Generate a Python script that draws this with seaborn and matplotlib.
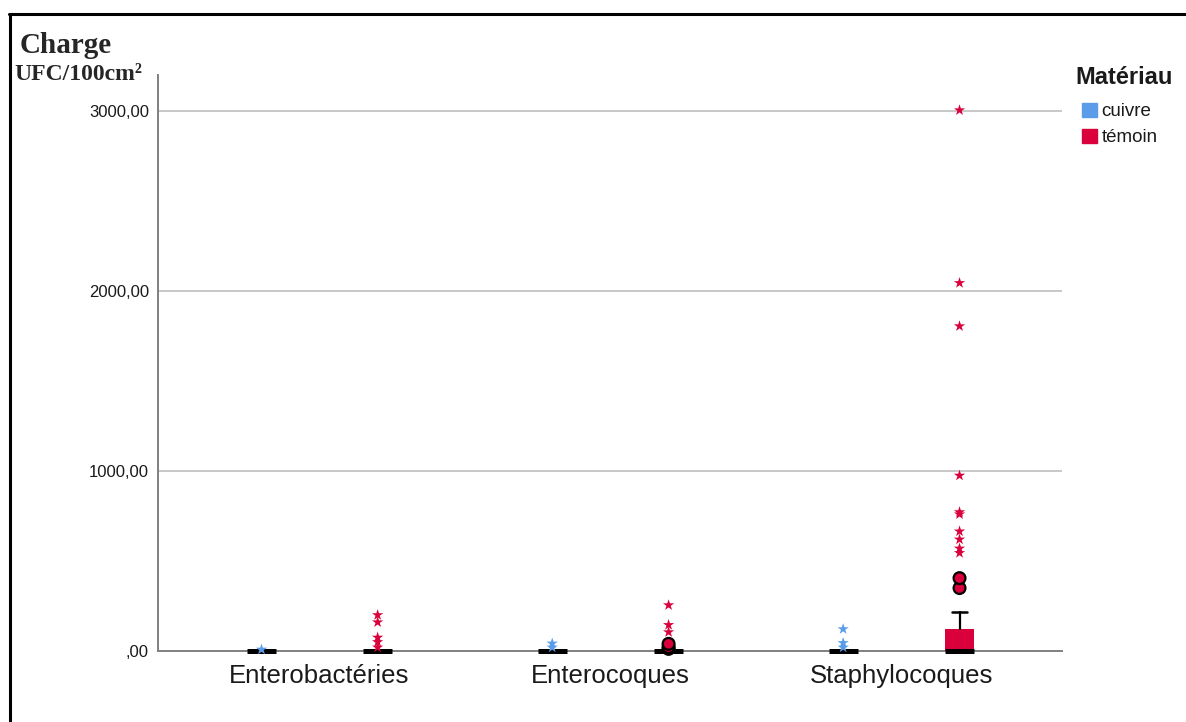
import matplotlib
matplotlib.use("Agg")
import matplotlib.pyplot as plt
from matplotlib.lines import Line2D
from matplotlib.patches import Patch
import seaborn as sns
import pandas as pd

# ---- data -------------------------------------------------------------
categories = ["Enterobactéries", "Enterocoques", "Staphylocoques"]
materials = ["cuivre", "témoin"]
palette = {"cuivre": "#5B9CE8", "témoin": "#D9003B"}

# box summaries, one entry per (category, material), category-major order
box_cat = ["Enterobactéries", "Enterobactéries", "Enterocoques", "Enterocoques",
           "Staphylocoques", "Staphylocoques"]
box_mat = ["cuivre", "témoin", "cuivre", "témoin", "cuivre", "témoin"]
box_q1 = [0, 0, 0, 0, 0, 0]
box_median = [0, 0, 0, 0, 0, 0]
box_q3 = [0, 0, 0, 0, 0, 125]
whisker_low = [0, 0, 0, 0, 0, 0]
whisker_high = [0, 0, 0, 0, 0, 217]

# outliers (circles)
outlier_cat = ["Enterocoques", "Enterocoques", "Enterocoques",
               "Staphylocoques", "Staphylocoques"]
outlier_mat = ["témoin", "témoin", "témoin", "témoin", "témoin"]
outlier_val = [12, 22, 40, 350, 405]

# extreme values (stars)
extreme_cat = (["Enterobactéries"] * 1 + ["Enterobactéries"] * 5
               + ["Enterocoques"] * 2 + ["Enterocoques"] * 3
               + ["Staphylocoques"] * 3 + ["Staphylocoques"] * 10)
extreme_mat = (["cuivre"] * 1 + ["témoin"] * 5
               + ["cuivre"] * 2 + ["témoin"] * 3
               + ["cuivre"] * 3 + ["témoin"] * 10)
extreme_val = ([10] + [20, 50, 75, 160, 200]
               + [20, 42] + [105, 145, 255]
               + [20, 45, 122]
               + [545, 570, 620, 665, 760, 772, 975, 1805, 2045, 3005])

y_ticks = [0, 1000, 2000, 3000]
y_tick_labels = [",00", "1000,00", "2000,00", "3000,00"]

# ---- figure -----------------------------------------------------------
sns.set_style("white")
plt.rcParams["font.family"] = ["Liberation Sans", "DejaVu Sans"]

fig = plt.figure(figsize=(11.86, 7.22), dpi=100)
ax = fig.add_axes([0.1332, 0.0983, 0.7622, 0.7977])

outlier_df = pd.DataFrame({"Germe": outlier_cat, "Matériau": outlier_mat,
                           "Charge": outlier_val})
extreme_df = pd.DataFrame({"Germe": extreme_cat, "Matériau": extreme_mat,
                           "Charge": extreme_val})

sns.stripplot(data=extreme_df, x="Germe", y="Charge", hue="Matériau",
              order=categories, hue_order=materials, palette=palette,
              dodge=True, jitter=False, marker="*", size=8.5, linewidth=0,
              legend=False, ax=ax)
sns.stripplot(data=outlier_df, x="Germe", y="Charge", hue="Matériau",
              order=categories, hue_order=materials, palette=palette,
              dodge=True, jitter=False, marker="o", size=8.5, linewidth=1.6,
              edgecolor="black", legend=False, ax=ax)
for coll in ax.collections:
    coll.set_zorder(5)
    if len(coll.get_offsets()) > 0:
        coll.set_clip_on(False)

# boxes drawn from the summary arrays at the dodged positions
offsets = {"cuivre": -0.2, "témoin": 0.2}
stats, positions, face = [], [], []
for c, m, q1, med, q3, lo, hi in zip(box_cat, box_mat, box_q1, box_median,
                                     box_q3, whisker_low, whisker_high):
    stats.append({"q1": q1, "med": med, "q3": q3, "whislo": lo, "whishi": hi,
                  "fliers": []})
    positions.append(categories.index(c) + offsets[m])
    face.append(palette[m])

bp = ax.bxp(stats, positions=positions, widths=0.1, patch_artist=True,
            showfliers=False, manage_ticks=False, capwidths=0.05,
            boxprops=dict(linewidth=0),
            medianprops=dict(color="black", linewidth=3.6, solid_capstyle="butt"),
            whiskerprops=dict(color="black", linewidth=1.6),
            capprops=dict(color="black", linewidth=1.8),
            zorder=3)
for patch, col in zip(bp["boxes"], face):
    patch.set_facecolor(col)
    patch.set_edgecolor(col)
for line in bp["medians"]:
    line.set_clip_on(False)
    line.set_zorder(4)

ax.set_xlim(-0.555, 2.552)
ax.set_ylim(0, 3200)
ax.set_yticks(y_ticks)
ax.set_yticklabels(y_tick_labels)
ax.set_xticks(range(len(categories)))
ax.set_xticklabels(categories)
ax.set_xlabel("")
ax.set_ylabel("")

for y in y_ticks[1:]:
    ax.axhline(y, color="#c8c8c8", linewidth=1.4, zorder=1)

for side in ["top", "right"]:
    ax.spines[side].set_visible(False)
for side in ["left", "bottom"]:
    ax.spines[side].set_color("#808080")
    ax.spines[side].set_linewidth(1.4)

ax.tick_params(axis="y", length=0, pad=6.5, labelsize=12, labelcolor="#1a1a1a")
ax.tick_params(axis="x", length=0, pad=9, labelsize=18.5, labelcolor="#1a1a1a")

# axis title in the top-left corner
fig.text(0.0169, 0.927, "Charge", family=["Liberation Serif", "DejaVu Serif"],
         fontweight="bold", fontsize=21, va="baseline", ha="left")
fig.text(0.0118, 0.889, "UFC/100cm²", family=["Liberation Serif", "DejaVu Serif"],
         fontweight="bold", fontsize=17, va="baseline", ha="left")

# legend: title as text, entries as a compact legend below it
fig.text(0.9064, 0.884, "Matériau", fontweight="bold", fontsize=17,
         va="baseline", ha="left", color="#1a1a1a")
handles = [Patch(facecolor=palette[m], edgecolor=palette[m], label=m)
           for m in materials]
leg = fig.legend(handles=handles, loc="upper left",
                 bbox_to_anchor=(0.912, 0.858), frameon=False, fontsize=13.5,
                 handlelength=0.8, handleheight=0.8, handletextpad=0.25,
                 labelspacing=0.45, borderaxespad=0, borderpad=0)
for t in leg.get_texts():
    t.set_color("#1a1a1a")

# frame lines along the top and left edges
fig.add_artist(Line2D([0.0078, 1.0], [0.9813, 0.9813], color="black",
                      linewidth=2.2, transform=fig.transFigure))
fig.add_artist(Line2D([0.0085, 0.0085], [0.0, 0.9813], color="black",
                      linewidth=2.2, transform=fig.transFigure))

fig.savefig("out.png", dpi=100)
